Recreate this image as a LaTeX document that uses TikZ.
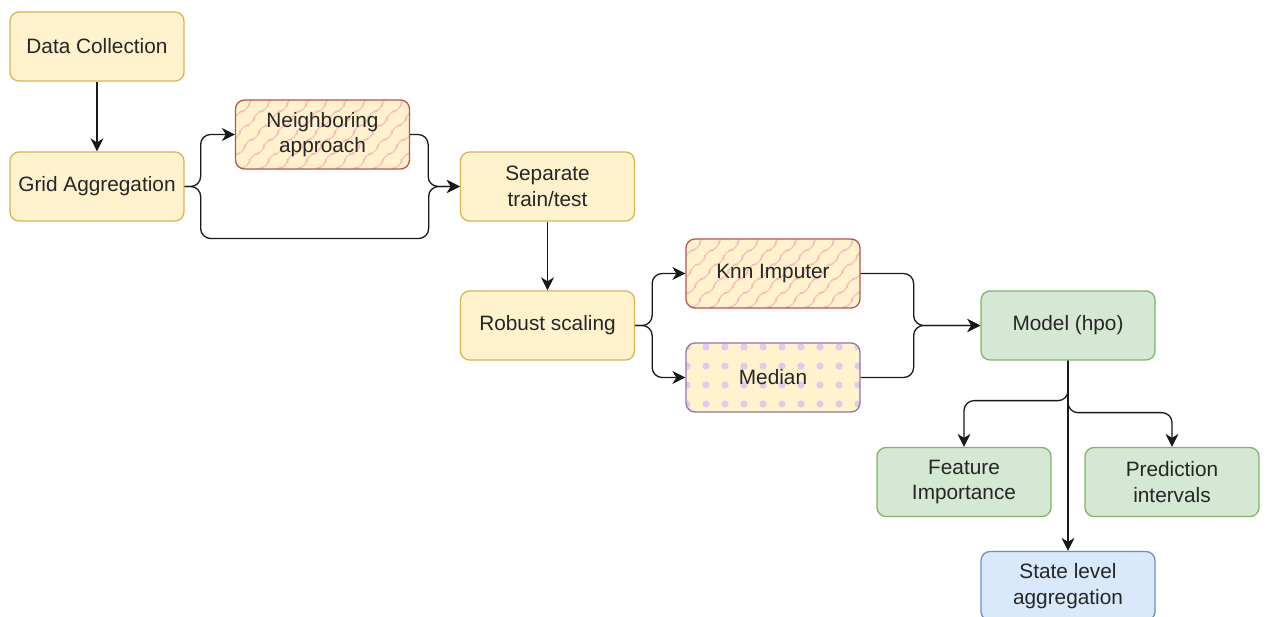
\documentclass[tikz,border=0pt]{standalone}
\usepackage{fontspec}
\setmainfont{Liberation Sans}
\usetikzlibrary{arrows.meta,decorations.pathmorphing,calc}
\definecolor{yfill}{HTML}{FFF2CC}
\definecolor{ydraw}{HTML}{D6B656}
\definecolor{rdraw}{HTML}{B85450}
\definecolor{zigcol}{HTML}{F7BDBD}
\definecolor{pdraw}{HTML}{9673A6}
\definecolor{dotcol}{HTML}{DCCDEB}
\definecolor{gfill}{HTML}{D5E8D4}
\definecolor{gdraw}{HTML}{82B366}
\definecolor{bfill}{HTML}{DAE8FC}
\definecolor{bdraw}{HTML}{6C8EBF}
\definecolor{txt}{HTML}{262626}
\begin{document}
\begin{tikzpicture}[x=1pt,y=-1pt,
  box/.style={rectangle, rounded corners=9pt, minimum width=174pt, minimum height=69pt,
    line width=1.3pt, align=center, text=txt, font=\fontsize{20.8}{25.5}\selectfont, inner sep=2pt},
  yellowbox/.style={box, fill=yfill, draw=ydraw},
  zigbox/.style={box, fill=yfill, draw=rdraw,
    path picture={
      \foreach \i in {-5,...,10}{
        \draw[zigcol, line width=1.1pt, line join=round, decorate, decoration={zigzag, segment length=20pt, amplitude=5pt}]
          ([xshift=\i*19pt, yshift=-6pt]path picture bounding box.south west) -- ++(90pt,90pt);
      }}},
  dotbox/.style={box, fill=yfill, draw=pdraw,
    path picture={
      \foreach \i in {0,...,9}{
        \foreach \j in {0,...,3}{
          \fill[dotcol] ([xshift=1pt+\i*19pt, yshift=-4pt-\j*19pt]path picture bounding box.north west) circle (3.6pt);
        }}}},
  greenbox/.style={box, fill=gfill, draw=gdraw},
  bluebox/.style={box, fill=bfill, draw=bdraw},
  arr/.style={-{Stealth[length=13pt, width=13pt, inset=4pt]}, line width=1.3pt, black!90, rounded corners=10pt}
]
\useasboundingbox (0,0) rectangle (1267,617);
\fill[white] (0,0) rectangle (1267,617);

\node[yellowbox] (data)  at (97,46.5) {Data Collection};
\node[yellowbox] (grid)  at (97,186.5) {Grid Aggregation};
\node[zigbox]    (neigh) at (322.5,134.5) {Neighboring\\approach};
\node[yellowbox] (sep)   at (547.5,186.5) {Separate\\train/test};
\node[yellowbox] (rob)   at (547.5,325.5) {Robust scaling};
\node[zigbox]    (knn)   at (773,273.5) {Knn Imputer};
\node[dotbox]    (med)   at (773,377.5) {Median};
\node[greenbox]  (model) at (1068,325.5) {Model (hpo)};
\node[greenbox]  (feat)  at (964,482) {Feature\\Importance};
\node[greenbox]  (pred)  at (1172,482) {Prediction\\intervals};
\node[bluebox]   (state) at (1068,586) {State level\\aggregation};

\draw[arr] (data) -- (grid);
\draw[arr] (grid.east) -- ++(16,0) |- (neigh.west);
\draw[arr] (grid.east) -- ++(16,0) -- ++(0,52) -- ++(228,0) -- ++(0,-52) -- (sep.west);
\draw[arr] (neigh.east) -- ++(18,0) |- (sep.west);
\draw[arr] (sep) -- (rob);
\draw[arr] (rob.east) -- ++(17,0) |- (knn.west);
\draw[arr] (rob.east) -- ++(17,0) |- (med.west);
\draw[arr] (knn.east) -- ++(53,0) |- (model.west);
\draw[arr] (med.east) -- ++(53,0) |- (model.west);
\draw[arr] (model.south) -- ++(0,40) -| (feat.north);
\draw[arr] (model.south) -- ++(0,52) -| (pred.north);
\draw[arr] (model.south) -- (state.north);
\end{tikzpicture}
\end{document}
